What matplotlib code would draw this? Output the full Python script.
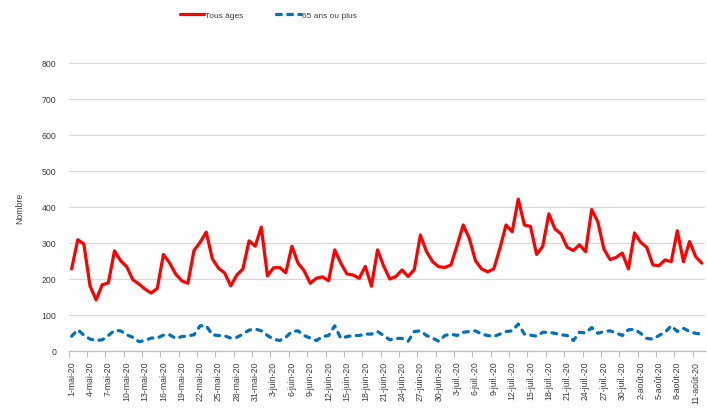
import matplotlib.pyplot as plt
import numpy as np
import pandas as pd
from matplotlib import font_manager

# --- Data (daily counts, 1 May 2020 -> 12 Aug 2020) ---
start_date = "2020-05-01"
tous_ages = [
    228, 309, 297, 181, 142, 184, 189, 278, 251, 234,
    198, 186, 172, 161, 174, 268, 245, 214, 195, 188,
    279, 302, 330, 256, 230, 217, 181, 211, 228, 306,
    291, 344, 209, 231, 232, 217, 291, 244, 223, 188,
    202, 206, 195, 281, 244, 214, 211, 202, 235, 180,
    281, 236, 200, 207, 225, 207, 226, 322, 276, 248,
    234, 232, 239, 293, 350, 313, 251, 228, 220, 228,
    285, 350, 331, 422, 350, 346, 268, 291, 381, 339,
    325, 288, 279, 295, 276, 393, 359, 283, 254, 260,
    272, 228, 328, 302, 288, 239, 237, 253, 248, 334,
    248, 304, 262, 244,
]
plus_65 = [
    41, 59, 44, 33, 29, 31, 43, 57, 56, 45,
    38, 26, 29, 36, 36, 44, 45, 35, 40, 42,
    45, 70, 70, 45, 43, 42, 36, 38, 47, 58,
    61, 56, 43, 33, 29, 38, 54, 56, 43, 36,
    29, 40, 43, 70, 35, 40, 43, 43, 47, 47,
    54, 43, 31, 35, 35, 27, 54, 56, 43, 36,
    27, 43, 47, 43, 52, 54, 56, 47, 43, 40,
    47, 54, 56, 75, 47, 44, 41, 52, 52, 49,
    45, 43, 29, 52, 50, 65, 49, 54, 56, 50,
    43, 59, 60, 49, 35, 33, 43, 52, 70, 54,
    63, 54, 49, 47,
]
y_ticks = [0, 100, 200, 300, 400, 500, 600, 700, 800]
mois_fr = {5: "mai", 6: "juin", 7: "juil.", 8: "août"}

dates = pd.date_range(start_date, periods=len(tous_ages))
labels = [f"{d.day}-{mois_fr[d.month]}-20" for d in dates]
x = np.arange(len(dates))

# narrow font for legend if it exists
installed = {f.name for f in font_manager.fontManager.ttflist}
if "Liberation Sans Narrow" in installed:
    narrow, narrow_size = "Liberation Sans Narrow", 6.8
else:
    narrow, narrow_size = "Liberation Sans", 6.0
plt.rcParams["font.family"] = ["Liberation Sans", "DejaVu Sans"]

fig = plt.figure(figsize=(7.07, 4.10), dpi=100)
ax = fig.add_axes([0.097, 0.1415, 0.9, 0.7025])

red_line, = ax.plot(x, tous_ages, color="#ff0000", linewidth=2.3,
                    solid_capstyle="round", solid_joinstyle="round")
blue_line, = ax.plot(x, plus_65, color="#0070c0", linewidth=2.3,
                     dashes=(1.5, 2.0), dash_capstyle="round", dash_joinstyle="round")

ax.set_xlim(-0.5, len(x) - 0.5)
ax.set_ylim(0, 800)
ax.set_yticks(y_ticks)
ax.yaxis.grid(True, color="#d9d9d9", linewidth=0.9)
ax.set_axisbelow(True)

# labels every 3 days, tick marks between categories
ax.set_xticks(x[::3])
ax.set_xticklabels(labels[::3], rotation=90, fontsize=6.3, color="#404040")
ax.set_xticks(x[::3] - 0.5, minor=True)
ax.tick_params(axis="x", which="major", length=0, pad=7)
ax.tick_params(axis="x", which="minor", length=4, color="#bfbfbf", width=0.8)
ax.tick_params(axis="y", length=0, pad=9, labelsize=6.3, labelcolor="#404040")

for side in ["left", "right", "top"]:
    ax.spines[side].set_visible(False)
ax.spines["bottom"].set_color("#bfbfbf")
ax.spines["bottom"].set_linewidth(0.9)

ax.set_ylabel("Nombre", fontsize=6.3, color="#404040", labelpad=12)

# legend entries placed separately, like Excel's top legend
leg_kw = dict(loc="center left", frameon=False, borderpad=0, borderaxespad=0,
              handlelength=2.9, handletextpad=0.15,
              prop={"family": narrow, "size": narrow_size}, labelcolor="#404040")
fig.legend([red_line], ["Tous âges"], bbox_to_anchor=(0.254, 0.961), **leg_kw)
fig.legend([blue_line], ["65 ans ou plus"], bbox_to_anchor=(0.391, 0.961), **leg_kw)

fig.savefig("out.png", dpi=100)
